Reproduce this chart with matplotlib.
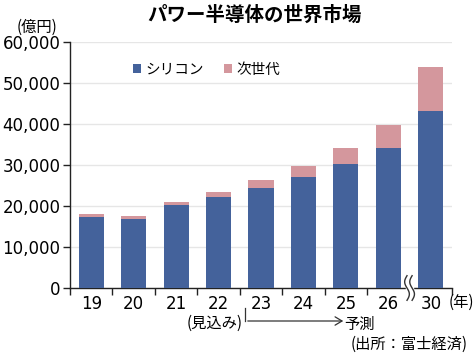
import numpy as np
import matplotlib
matplotlib.use("Agg")
import matplotlib.pyplot as plt
import matplotlib.transforms as mtransforms

years = ["19", "20", "21", "22", "23", "24", "25", "26", "30"]
silicon = [17400, 16800, 20200, 22200, 24500, 27100, 30200, 34100, 43200]
nextgen = [650, 700, 800, 1300, 1900, 2700, 3900, 5700, 10600]
yticks = [0, 10000, 20000, 30000, 40000, 50000, 60000]

BLUE = "#44629b"
PINK = "#d4979d"
JP = ["Noto Sans CJK JP", "DejaVu Sans"]
NUM = ["DejaVu Sans", "Noto Sans CJK JP"]

W, H = 474, 354
fig = plt.figure(figsize=(W / 100, H / 100), dpi=100)
ax = fig.add_axes([70 / W, 1 - 288 / H, 382 / W, 246 / H])

x = np.arange(len(years))
bw = 0.59
ax.bar(x, silicon, bw, color=BLUE, zorder=3, label="シリコン")
ax.bar(x, nextgen, bw, bottom=silicon, color=PINK, zorder=3, label="次世代")

ax.set_xlim(-0.5, len(years) - 0.5)
ax.set_ylim(0, 60000)
ax.set_yticks(yticks)
ax.set_yticklabels([f"{v:,}" for v in yticks], family=NUM, fontsize=12)
ax.set_xticks(x)
ax.set_xticklabels(years, family=NUM, fontsize=12)
ax.tick_params(axis="x", which="major", length=0, pad=5)
bounds = [b - 0.5 for b in range(len(years) - 1)] + [len(years) - 0.5]
ax.set_xticks(bounds, minor=True)
ax.tick_params(axis="x", which="minor", length=5, width=1, color="#222222")
ax.tick_params(axis="y", length=5, width=1, color="#222222", pad=2)

for s in ["top", "right"]:
    ax.spines[s].set_visible(False)
for s in ["left", "bottom"]:
    ax.spines[s].set_color("#222222")
    ax.spines[s].set_linewidth(1)
ax.yaxis.grid(True, color="#e6e6e6", linewidth=1, zorder=0)
ax.set_axisbelow(True)

# axis break between 26 and 30
trans = mtransforms.blended_transform_factory(ax.transData, ax.transAxes)
bx = len(years) - 1.5
ax.add_patch(plt.Rectangle((bx - 0.08, -0.05), 0.16, 0.09, transform=trans,
                           color="white", clip_on=False, zorder=5))
t = np.linspace(0, 1, 60)
for off in (-0.06, 0.06):
    xs = bx + off + 0.055 * np.sin(t * 2 * np.pi)
    ys = -0.05 + 0.1 * t
    ax.plot(xs, ys, color="#333333", lw=1.0, transform=trans, clip_on=False, zorder=6)

leg = ax.legend(loc="upper left", bbox_to_anchor=(0.13, 0.97), ncol=2, frameon=False,
                prop={"family": JP, "size": 10.5}, handlelength=0.55, handleheight=0.55,
                handletextpad=0.3, columnspacing=1.4)

fig.text(255 / W, 1 - 15 / H, "パワー半導体の世界市場", family=JP, fontsize=14,
         fontweight="bold", ha="center", va="center")
fig.text(37 / W, 1 - 27 / H, "(億円)", family=JP, fontsize=11, ha="center", va="center")
fig.text(461 / W, 1 - 302 / H, "(年)", family=JP, fontsize=11, ha="center", va="center")
fig.text(215 / W, 1 - 323 / H, "(見込み)", family=JP, fontsize=11, ha="center", va="center")
fig.text(359 / W, 1 - 324 / H, "予測", family=JP, fontsize=11, ha="center", va="center")
fig.text(409 / W, 1 - 344 / H, "(出所：富士経済)", family=JP, fontsize=11, ha="center", va="center")

fig.add_artist(plt.Line2D([245 / W, 245 / W], [1 - 308 / H, 1 - 321 / H],
                          color="#333333", lw=0.9))
fig.add_artist(matplotlib.patches.FancyArrowPatch(
    (245 / W, 1 - 321 / H), (346 / W, 1 - 321 / H), transform=fig.transFigure,
    arrowstyle="->,head_length=5,head_width=3", color="#333333", lw=0.9))

fig.savefig("out.png", dpi=100)
